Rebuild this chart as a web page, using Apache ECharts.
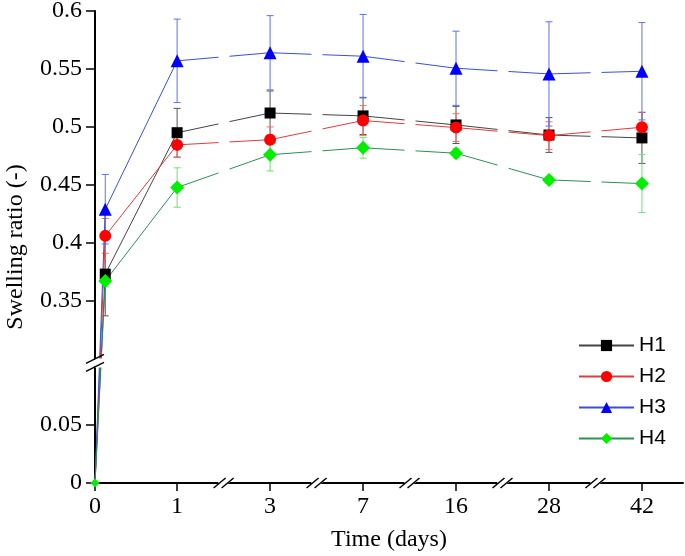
<!DOCTYPE html>
<html><head><meta charset="utf-8">
<script src="https://cdn.jsdelivr.net/npm/echarts@6/dist/echarts.min.js"></script>
<style>html,body{margin:0;padding:0;background:#fff}#c{width:685px;height:556px}</style>
</head><body><div id="c"></div>
<script>
// ---- data ----
const days = [0, 0.125, 1, 3, 7, 16, 28, 42];
const seriesNames = ['H1', 'H2', 'H3', 'H4'];
const H1 = [0, 0.373, 0.495, 0.512, 0.5095, 0.5017, 0.493, 0.4905];
const H1err = [0, 0.036, 0.021, 0.019, 0.016, 0.016, 0.015, 0.022];
const H2 = [0, 0.406, 0.4845, 0.489, 0.5055, 0.4994, 0.4925, 0.4997];
const H2err = [0, 0.015, 0.011, 0.011, 0.013, 0.012, 0.012, 0.013];
const H3 = [0, 0.429, 0.557, 0.564, 0.561, 0.5506, 0.5457, 0.548];
const H3err = [0, 0.030, 0.036, 0.032, 0.036, 0.032, 0.045, 0.042];
const H4 = [0, 0.367, 0.4477, 0.476, 0.482, 0.4773, 0.4543, 0.4511];
const H4err = [0, 0.005, 0.017, 0.014, 0.009, 0.004, 0.003, 0.025];
const xTicks = [0, 1, 3, 7, 16, 28, 42];
const yTicks = [0, 0.05, 0.35, 0.4, 0.45, 0.5, 0.55, 0.6];
const xBreaks = [[1.5, 2.5], [3.5, 6.5], [7.5, 15.5], [16.5, 27.5], [28.5, 41.5]];
const yBreaks = [[0.1, 0.3]];

// ---- styles ----
const values = [H1, H2, H3, H4];
const errs = [H1err, H2err, H3err, H4err];
const symbols = ['rect', 'circle', 'triangle', 'diamond'];
const symSizes = [11, 12, 13, 14];
const originSizes = [0, 0, 0, 9];
const markerColors = ['#000000', '#ff0000', '#0000ff', '#00ee00'];
const lineColors = ['#444444', '#e03c3c', '#3a4fd8', '#2f8f55'];
const errColors = ['#555555', '#f07070', '#6070f0', '#70e070'];
const serif = 'Liberation Serif';

const chart = echarts.init(document.getElementById('c'), null, {renderer: 'canvas'});

const series = [];
seriesNames.forEach((n, k) => {
  series.push({
    type: 'custom',
    name: n + ' err',
    z: 2,
    silent: true,
    data: days.map((d, i) => [d, values[k][i] - errs[k][i], values[k][i] + errs[k][i]]).filter((r, i) => errs[k][i] > 0),
    renderItem: function (params, api) {
      const x = api.value(0);
      const lo = api.coord([x, api.value(1)]);
      const hi = api.coord([x, api.value(2)]);
      const w = 3.5;
      const st = {stroke: errColors[k], lineWidth: 1};
      return {type: 'group', children: [
        {type: 'line', shape: {x1: hi[0], y1: hi[1], x2: lo[0], y2: lo[1]}, style: st},
        {type: 'line', shape: {x1: hi[0] - w, y1: hi[1], x2: hi[0] + w, y2: hi[1]}, style: st},
        {type: 'line', shape: {x1: lo[0] - w, y1: lo[1], x2: lo[0] + w, y2: lo[1]}, style: st}
      ]};
    }
  });
});
seriesNames.forEach((n, k) => {
  series.push({
    type: 'line',
    name: n,
    z: 3,
    data: days.map((d, i) => i === 0
      ? {value: [d, values[k][i]], symbolSize: originSizes[k], symbol: originSizes[k] ? symbols[k] : 'none'}
      : [d, values[k][i]]),
    symbol: symbols[k],
    symbolSize: symSizes[k],
    showAllSymbol: true,
    itemStyle: {color: markerColors[k], borderWidth: 0},
    lineStyle: {color: lineColors[k], width: 1},
    emphasis: {disabled: true},
    animation: false
  });
});

const breakArea = {
  show: true,
  itemStyle: {color: '#ffffff', borderColor: '#ffffff', borderWidth: 0, opacity: 1},
  zigzagAmplitude: 0,
  expandOnClick: false
};

chart.setOption({
  animation: false,
  backgroundColor: '#fff',
  grid: {left: 95, right: 2, top: 11, bottom: 73, containLabel: false, outerBoundsMode: 'none'},
  legend: {
    data: seriesNames,
    orient: 'vertical',
    left: 573, top: 330,
    zlevel: 1,
    itemWidth: 55, itemHeight: 14, itemGap: 10,
    textStyle: {fontFamily: 'Liberation Sans', fontSize: 21, color: '#000'},
    selectedMode: false
  },
  xAxis: {
    type: 'value',
    min: 0, max: 42.5,
    breaks: xBreaks.map(b => ({start: b[0], end: b[1], gap: 0.132})),
    breakArea: breakArea,
    name: 'Time (days)',
    nameLocation: 'middle',
    nameGap: 45,
    nameTextStyle: {fontFamily: serif, fontSize: 24, color: '#000'},
    axisLine: {onZero: false, lineStyle: {color: '#000', width: 2}},
    axisTick: {show: true, length: 8, lineStyle: {color: '#000', width: 1.5}, customValues: xTicks},
    axisLabel: {fontFamily: serif, fontSize: 24, color: '#000', margin: 12, customValues: xTicks},
    splitLine: {show: false}
  },
  yAxis: {
    type: 'value',
    min: 0, max: 0.6,
    breaks: yBreaks.map(b => ({start: b[0], end: b[1], gap: 0.0072})),
    breakArea: breakArea,
    name: 'Swelling ratio (-)',
    nameLocation: 'middle',
    nameGap: 67,
    nameTextStyle: {fontFamily: serif, fontSize: 24, color: '#000'},
    axisLine: {show: true, lineStyle: {color: '#000', width: 2}},
    axisTick: {show: true, length: 9, lineStyle: {color: '#000', width: 1.5}, customValues: yTicks},
    axisLabel: {fontFamily: serif, fontSize: 24, color: '#000', margin: 13, customValues: yTicks},
    splitLine: {show: false}
  },
  series: series
});

// break marks on the axis lines
const graphics = [];
const slashStyle = {stroke: '#000', lineWidth: 1.5};
xBreaks.forEach(b => {
  const p = chart.convertToPixel({gridIndex: 0}, [(b[0] + b[1]) / 2, 0]);
  [-4, 4].forEach(o => {
    graphics.push({type: 'line', z: 100, shape: {x1: p[0] + o - 6, y1: p[1] + 5, x2: p[0] + o + 6, y2: p[1] - 5}, style: slashStyle});
  });
});
yBreaks.forEach(b => {
  const p = chart.convertToPixel({gridIndex: 0}, [0, (b[0] + b[1]) / 2]);
  [-4, 4].forEach(o => {
    graphics.push({type: 'line', z: 100, shape: {x1: p[0] - 9, y1: p[1] + o + 4.5, x2: p[0] + 9, y2: p[1] + o - 4.5}, style: slashStyle});
  });
});
chart.setOption({graphic: graphics});
</script>
</body></html>
